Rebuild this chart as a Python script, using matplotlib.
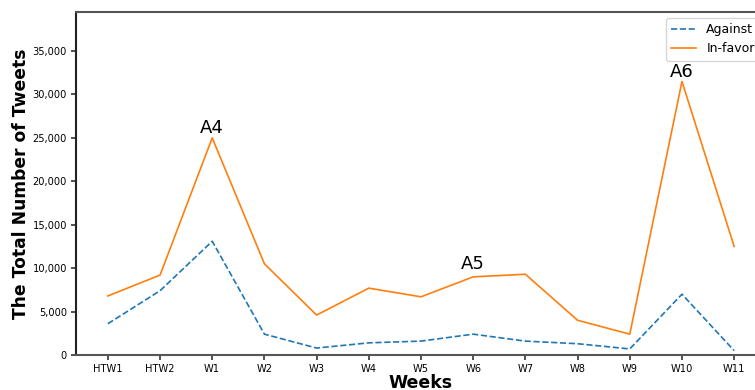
import numpy as np
import matplotlib
matplotlib.use('Agg')
import matplotlib.pyplot as plt
from matplotlib.ticker import FuncFormatter

weeks = ['HTW1', 'HTW2', 'W1', 'W2', 'W3', 'W4', 'W5',
         'W6', 'W7', 'W8', 'W9', 'W10', 'W11']
against = [3600, 7400, 13100, 2400, 800, 1400, 1600,
           2400, 1600, 1300, 700, 7000, 500]
in_favor = [6800, 9200, 25000, 10500, 4600, 7700, 6700,
            9000, 9300, 4000, 2400, 31500, 12500]

# (label, week, height)
events = [('A4', 'W1', 25100), ('A5', 'W6', 9500), ('A6', 'W10', 31600)]

fig = plt.figure(figsize=(7.55, 3.9), dpi=100)
# axes runs a bit past the right edge, like the original crop
ax = fig.add_axes([76 / 755, 35 / 390, 690 / 755, 343 / 390])

x = np.arange(len(weeks))
ax.plot(x, against, color='tab:blue', linestyle='--', linewidth=1.2,
        label='Against')
ax.plot(x, in_favor, color='tab:orange', linestyle='-', linewidth=1.2,
        label='In-favor')

for name, wk, h in events:
    ax.text(weeks.index(wk), h, name, ha='center', va='bottom', fontsize=13)

ax.set_xlim(-0.61, 12.61)
ax.set_ylim(0, 39500)
ax.set_xticks(x)
ax.set_xticklabels(weeks, fontsize=7.1)
ax.set_yticks(np.arange(0, 35001, 5000))
ax.yaxis.set_major_formatter(FuncFormatter(lambda v, p: f'{int(v):,}'))
ax.tick_params(axis='y', labelsize=7.1)
ax.tick_params(length=3.5, width=1.2, pad=3, color='#333333')

for s in ax.spines.values():
    s.set_color('#555555')
    s.set_linewidth(1.5)
ax.spines['left'].set_color('#222222')

ax.set_xlabel('Weeks', fontsize=12.5, fontweight='bold', labelpad=0)
ax.set_ylabel('The Total Number of Tweets', fontsize=12.3, fontweight='bold')
ax.yaxis.set_label_coords(-0.066, 0.5)
ax.legend(loc='upper right', fontsize=9)

plt.savefig('out.png', dpi=100)
